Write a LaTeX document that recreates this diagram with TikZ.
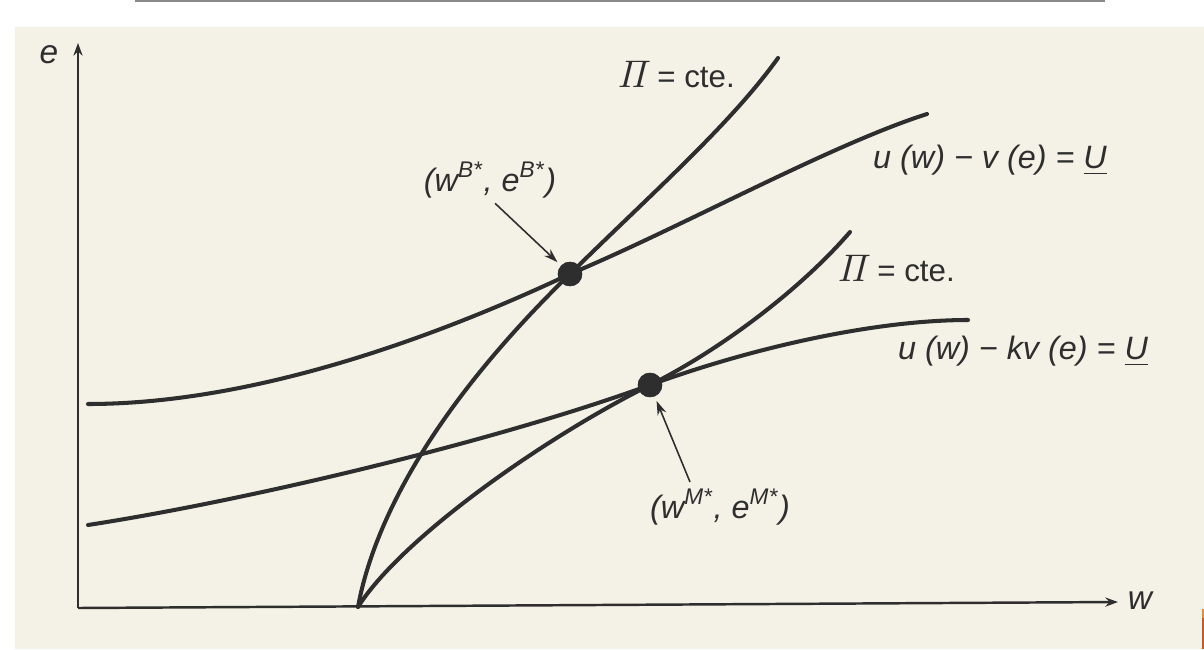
\documentclass[tikz,border=0pt]{standalone}
\usepackage[no-math]{fontspec}
\setmainfont{Liberation Sans}
\usetikzlibrary{arrows.meta}
\definecolor{paper}{HTML}{F4F2E7}
\definecolor{ink}{HTML}{2E2E2E}
\definecolor{rule}{HTML}{8A8A8A}
\definecolor{orangeA}{HTML}{E98A3A}
\definecolor{orangeB}{HTML}{C8581E}
\begin{document}
\begin{tikzpicture}[x=0.01cm,y=-0.01cm,
  curve/.style={ink, line width=1.15pt, line cap=round},
  axis/.style={ink, line width=0.7pt, -{Stealth[length=3.6pt,width=2.6pt]}},
  ptr/.style={ink, line width=0.45pt, -{Stealth[length=4pt,width=2.6pt]}},
  dot/.style={circle, fill=ink, draw=ink, minimum size=0.23cm, inner sep=0pt},
  lbl/.style={font=\fontsize{9.2}{11}\selectfont\itshape, text=ink, inner sep=0pt},
  axlbl/.style={font=\fontsize{9.5}{11}\selectfont\itshape, text=ink, inner sep=0pt},
  pilbl/.style={font=\fontsize{8.9}{10}\selectfont, text=ink, inner sep=0pt}]
\useasboundingbox (0,0) rectangle (1204,649);
\fill[white] (0,0) rectangle (1204,649);
\fill[paper] (15,27) rectangle (1204,649);
\draw[rule, line width=0.6pt] (135,1) -- (1105,1);
\fill[orangeA] (1201.5,609) rectangle (1204,618);
\fill[orangeB] (1201.5,618) rectangle (1204,649);

% axes
\coordinate (O) at (78,608);
\coordinate (ytip) at (78,43);
\coordinate (xtip) at (1118,602);
\draw[axis] (O) -- (ytip);
\draw[axis] (O) -- (xtip);
\node[axlbl] (elab) at (49,55) {e};
\node[axlbl] (wlab) at (1140,601) {w};

% key points
\node[dot] (dotB) at (570,274) {};
\node[dot] (dotM) at (650,385) {};
\coordinate (base) at (358,607);

% u(w) - v(e) = U
\draw[curve] (88,404) .. controls (250,404) and (430,340) .. (dotB.center)
  .. controls (680,228) and (830,145) .. (927,114);
% u(w) - kv(e) = U
\draw[curve] (88,525) .. controls (250,500) and (500,440) .. (dotM.center)
  .. controls (760,345) and (880,320) .. (968,320);
% Pi = cte (B)
\draw[curve] (base) .. controls (373,525) and (430,410) .. (dotB.center)
  .. controls (650,195) and (730,125) .. (778,58);
% Pi = cte (M)
\draw[curve] (base) .. controls (400,540) and (540,440) .. (dotM.center)
  .. controls (720,350) and (800,290) .. (850,232);
\node[dot] at (dotB) {};
\node[dot] at (dotM) {};

% labels
\node[pilbl] (piB) at (676,74) {{\fontsize{10.8}{12}\selectfont$\mathit{\Pi}$}\,= cte.};
\node[pilbl] (piM) at (896,268) {{\fontsize{10.8}{12}\selectfont$\mathit{\Pi}$}\,= cte.};
\node[lbl] (uB) at (990,160) {u (w) − v (e) = \underline{U}};
\node[lbl] (uM) at (1023,351) {u (w) − kv (e) = \underline{U}};
\node[lbl] (lblB) at (490,180) {(w\textsuperscript{B*}, e\textsuperscript{B*})};
\node[lbl] (lblM) at (720,507) {(w\textsuperscript{M*}, e\textsuperscript{M*})};

% pointers
\coordinate (mtail) at (690,482);
\draw[ptr, shorten <=0.07cm, shorten >=0.05cm] (lblB.south) -- (dotB);
\draw[ptr, shorten >=0.05cm] (mtail) -- (dotM);
\end{tikzpicture}
\end{document}
